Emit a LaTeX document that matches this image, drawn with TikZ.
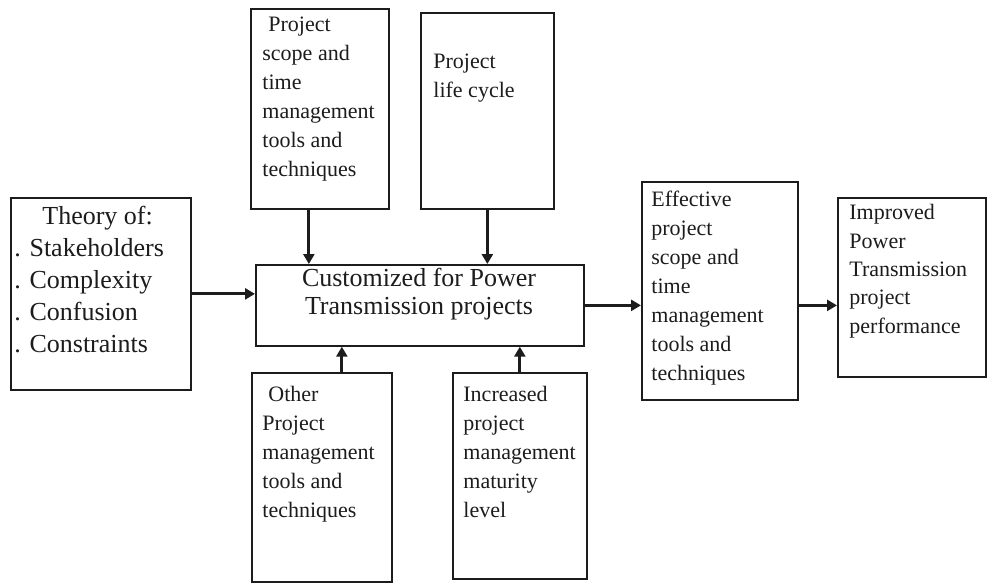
\documentclass[tikz,border=0pt]{standalone}
\usepackage{fontspec}
\setmainfont{Liberation Serif}
\usetikzlibrary{arrows.meta}

\definecolor{ink}{HTML}{1C1C1C}
\tikzstyle{frame_box}=[rectangle,
                       draw=ink,
                       line width=0.85pt,
                       inner sep=0pt,
                       anchor=north west, ]
\tikzstyle{box_text}=[anchor=north west,
                      inner sep=0pt,
                      align=left,
                      text=ink,
                      font=\fontsize{11}{14.5}\selectfont, ]
\tikzstyle{flow_arrow}=[draw=ink,
                        line width=1.5pt,
                        -{Triangle[length=5pt, width=5.5pt]}, ]

\begin{document}
\begin{tikzpicture}[x=0.5pt, y=-0.5pt]
  \useasboundingbox (0, 0) rectangle (988, 586);

  % Boxes
  % -------------------------------------------------------------
  \node at (10, 197) (theory) [frame_box, minimum width=90pt, minimum height=96pt] {};
  \node at (250, 8) (scope) [frame_box, minimum width=69pt, minimum height=100pt] {};
  \node at (420, 12) (lifecycle) [frame_box, minimum width=66.5pt, minimum height=98pt] {};
  \node at (255, 264) (center) [frame_box, minimum width=164pt, minimum height=40.5pt] {};
  \node at (251, 372) (other) [frame_box, minimum width=70pt, minimum height=104.5pt] {};
  \node at (452, 372) (maturity) [frame_box, minimum width=67pt, minimum height=103pt] {};
  \node at (641, 181) (effective) [frame_box, minimum width=78pt, minimum height=109pt] {};
  \node at (837, 197) (improved) [frame_box, minimum width=74pt, minimum height=89.5pt] {};

  % Texts
  % -------------------------------------------------------------
  \node at (14, 206) (theory_text) [box_text, font=\fontsize{13}{16}\selectfont]
    {\hspace*{14pt}Theory of:\\. Stakeholders\\. Complexity\\. Confusion\\. Constraints};
  \node at (262, 17) (scope_text) [box_text]
    {\hspace*{3pt}Project\\scope and\\time\\management\\tools and\\techniques};
  \node at (433, 54) (lifecycle_text) [box_text] {Project\\life cycle};
  \node at (419, 294) (center_text) [box_text, anchor=center, align=center, font=\fontsize{13}{14}\selectfont]
    {Customized for Power\\Transmission projects};
  \node at (262, 386) (other_text) [box_text]
    {\hspace*{3pt}Other\\Project\\management\\tools and\\techniques};
  \node at (463, 386) (maturity_text) [box_text]
    {Increased\\project\\management\\maturity\\level};
  \node at (651, 191) (effective_text) [box_text]
    {Effective\\project\\scope and\\time\\management\\tools and\\techniques};
  \node at (849, 204) (improved_text) [box_text, font=\fontsize{11}{14.2}\selectfont]
    {Improved\\Power\\Transmission\\project\\performance};

  % Arrows
  % -------------------------------------------------------------
  \draw [flow_arrow] (theory.east) -- (theory.east -| center.west);
  \draw [flow_arrow] ([xshift=-5.5pt]scope.south) -- ([xshift=-5.5pt]scope.south |- center.north);
  \draw [flow_arrow] (lifecycle.south) -- (lifecycle.south |- center.north);
  \draw [flow_arrow] ([xshift=10pt]other.north) -- ([xshift=10pt]other.north |- center.south);
  \draw [flow_arrow] (maturity.north) -- (maturity.north |- center.south);
  \draw [flow_arrow] (center.east) -- (center.east -| effective.west);
  \draw [flow_arrow] (center.east -| effective.east) -- (center.east -| improved.west);
\end{tikzpicture}
\end{document}
